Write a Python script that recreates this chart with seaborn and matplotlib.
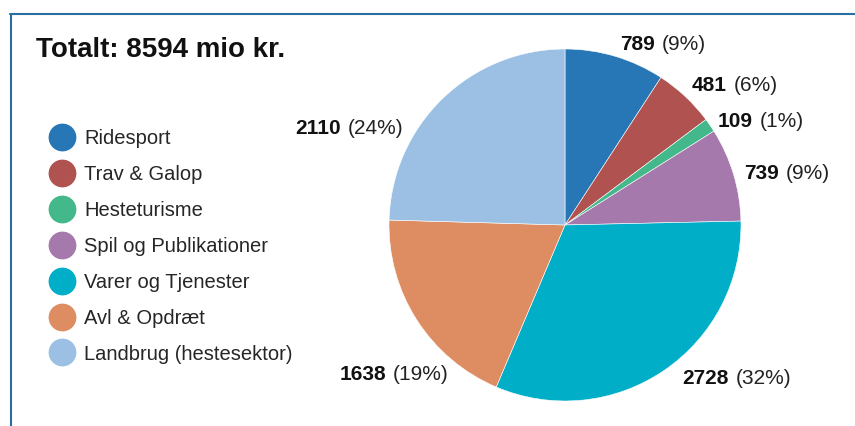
import numpy as np
import matplotlib
matplotlib.use("Agg")
import matplotlib.pyplot as plt
import seaborn as sns
from matplotlib.lines import Line2D
from matplotlib.offsetbox import TextArea, HPacker, AnnotationBbox

sns.set_style("white")
plt.rcParams["font.family"] = ["Liberation Sans", "DejaVu Sans"]

# data
categories = ["Ridesport", "Trav & Galop", "Hesteturisme", "Spil og Publikationer",
              "Varer og Tjenester", "Avl & Opdræt", "Landbrug (hestesektor)"]
values = [789, 481, 109, 739, 2728, 1638, 2110]
percents = [9, 6, 1, 9, 32, 19, 24]
colors = ["#2776b6", "#b0524f", "#43b88b", "#a679ad", "#00aec8", "#de8d62", "#9bc0e3"]
title = "Totalt: 8594 mio kr."

# label nudges in points (dx, dy) so labels sit like the original
label_nudge = [(0, -3.6), (-4.3, -1.4), (-5, -4.4), (-4.6, -3.4),
               (6.4, 5.1), (33.6, -32.2), (-19.4, -30.2)]

W, H = 855, 426
fig = plt.figure(figsize=(W / 100, H / 100), dpi=100)

# pie axes: center at (565, 225) px, radius 176 px
cx, cy, R = 565, 225, 176
half_w = 1.5
ax = fig.add_axes([(cx - half_w * R) / W, 0, 2 * half_w * R / W, 1])
wedges, _ = ax.pie(values, colors=colors, startangle=90, counterclock=False,
                   radius=1, wedgeprops=dict(edgecolor="white", linewidth=0.4))
ax.set_aspect("auto")
ax.set_xlim(-half_w, half_w)
ax.set_ylim(-(H - cy) / R, cy / R)
ax.axis("off")

total = sum(values)
cum = np.cumsum([0] + values)
for i, (v, p) in enumerate(zip(values, percents)):
    mid = (cum[i] + cum[i + 1]) / 2 / total * 2 * np.pi  # clockwise from top
    x, y = 1.1 * np.sin(mid), 1.1 * np.cos(mid)
    right = x >= 0
    box = HPacker(children=[
        TextArea(f"{v}", textprops=dict(fontsize=15, fontweight="bold", color="#111111")),
        TextArea(f"({p}%)", textprops=dict(fontsize=15, color="#222222")),
    ], pad=0, sep=5, align="baseline")
    dx, dy = label_nudge[i]
    ab = AnnotationBbox(box, (x, y), xybox=(dx, dy), boxcoords="offset points",
                        box_alignment=(0 if right else 1, 0.5), frameon=False)
    ax.add_artist(ab)

# title
fig.text(36 / W, 1 - 57 / H, title, fontsize=20, fontweight="bold",
         va="baseline", ha="left", color="#111111")

# legend with round markers
handles = [Line2D([], [], marker="o", linestyle="none", markersize=19,
                  markerfacecolor=c, markeredgecolor=c) for c in colors]
fig.legend(handles, categories, loc="upper left", bbox_to_anchor=(52 / W, 1 - 129 / H),
           frameon=False, fontsize=14.5, handlelength=1.0, handletextpad=0.6,
           labelspacing=0.84, borderpad=0, borderaxespad=0)

# frame lines on top and left
border = "#2a6fa2"
fig.add_artist(Line2D([10 / W, 1], [1 - 14 / H, 1 - 14 / H], color=border, linewidth=1.5))
fig.add_artist(Line2D([11 / W, 11 / W], [0, 1 - 14 / H], color=border, linewidth=1.5))

fig.savefig("out.png", dpi=100)
